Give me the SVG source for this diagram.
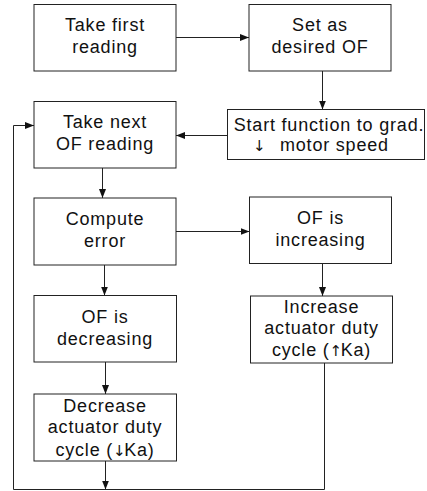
<svg xmlns="http://www.w3.org/2000/svg" width="427" height="491" viewBox="0 0 427 491">
<defs>
<style>
.box{fill:#fff;stroke:#222;stroke-width:1}
.t{font-family:"Liberation Sans",Arial,sans-serif;font-size:18px;letter-spacing:0.8px;fill:#111;text-anchor:middle}
.ar{font-family:"DejaVu Sans",sans-serif;font-size:15px;letter-spacing:-1.5px}
.c{fill:none;stroke:#222;stroke-width:1}
</style>
<marker id="ah" markerUnits="userSpaceOnUse" markerWidth="10" markerHeight="8" refX="9" refY="3.5" orient="auto">
<path d="M0,0 L9,3.5 L0,7 z" fill="#111"/>
</marker>
</defs>
<rect width="427" height="491" fill="#fff"/>
<g id="connectors">
<path class="c" d="M176,37.5 H249" marker-end="url(#ah)"/>
<path class="c" d="M322.5,71 V109.5" marker-end="url(#ah)"/>
<path class="c" d="M227.5,135.5 H176" marker-end="url(#ah)"/>
<path class="c" d="M102.5,168 V198" marker-end="url(#ah)"/>
<path class="c" d="M176,231.5 H249.5" marker-end="url(#ah)"/>
<path class="c" d="M104.5,265 V295.5" marker-end="url(#ah)"/>
<path class="c" d="M322.5,263.5 V296" marker-end="url(#ah)"/>
<path class="c" d="M105.5,362 V394" marker-end="url(#ah)"/>
<path class="c" d="M105.5,461 V489.5" marker-end="url(#ah)"/>
<path class="c" d="M324.5,363 V489.5 H13.5 V125.5 H34" marker-end="url(#ah)"/>
</g>
<g id="n1">
<rect class="box" x="34" y="4.5" width="142" height="66.5"/>
<text class="t" x="105" y="31">Take first</text>
<text class="t" x="105" y="53">reading</text>
</g>
<g id="n2">
<rect class="box" x="249" y="4.5" width="142" height="66.5"/>
<text class="t" x="320" y="31">Set as</text>
<text class="t" x="320" y="53">desired OF</text>
</g>
<g id="n3">
<rect class="box" x="227.5" y="109.5" width="197" height="50"/>
<text class="t" x="329" y="130.7">Start function to grad.</text>
<text class="t" style="text-anchor:start"><tspan class="ar" x="253" y="151">↓</tspan><tspan x="280" y="150.7">motor speed</tspan></text>
</g>
<g id="n4">
<rect class="box" x="34" y="101.5" width="142" height="66.5"/>
<text class="t" x="105" y="128.3">Take next</text>
<text class="t" x="105" y="150">OF reading</text>
</g>
<g id="n5">
<rect class="box" x="34" y="198" width="142" height="67"/>
<text class="t" x="105" y="225">Compute</text>
<text class="t" x="105" y="246.7">error</text>
</g>
<g id="n6">
<rect class="box" x="249.5" y="197" width="142" height="66.5"/>
<text class="t" x="320.5" y="224.3">OF is</text>
<text class="t" x="320.5" y="246">increasing</text>
</g>
<g id="n7">
<rect class="box" x="34" y="295.5" width="142.5" height="66.5"/>
<text class="t" x="105" y="323.3">OF is</text>
<text class="t" x="105" y="345">decreasing</text>
</g>
<g id="n8">
<rect class="box" x="250.5" y="296" width="142" height="67"/>
<text class="t" x="321.5" y="312.7">Increase</text>
<text class="t" x="321.5" y="334.3">actuator duty</text>
<text class="t" x="321.5" y="356">cycle (<tspan class="ar">↑</tspan>Ka)</text>
</g>
<g id="n9">
<rect class="box" x="34" y="394" width="142.5" height="67"/>
<text class="t" x="105" y="411.7">Decrease</text>
<text class="t" x="105" y="433.3">actuator duty</text>
<text class="t" x="105" y="456">cycle (<tspan class="ar">↓</tspan>Ka)</text>
</g>
</svg>
